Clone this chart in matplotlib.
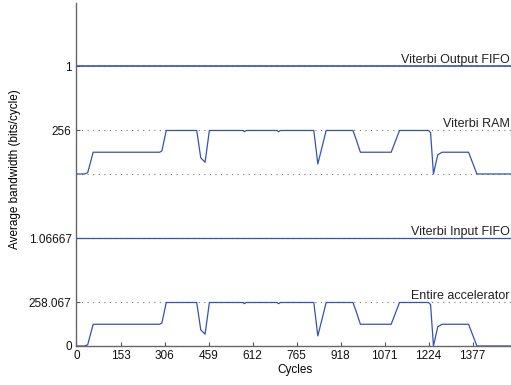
import matplotlib.pyplot as plt
import numpy as np

plt.rcParams['font.family'] = ['Liberation Sans', 'DejaVu Sans']

# Cycle sample points shared by the two busy traces
cycles = [0, 28, 39, 58, 289, 297, 312, 418, 432, 447, 462, 578, 584, 590,
          697, 703, 709, 825, 839, 868, 961, 972, 987, 1094, 1123, 1224,
          1231, 1241, 1256, 1271, 1363, 1392, 1520]

# Average bandwidth (bits/cycle)
ram_bw = [0, 0, 8, 128, 128, 136, 256, 256, 95, 69, 256, 256, 249, 256,
          256, 249, 256, 256, 59, 256, 256, 205, 128, 128, 256, 256,
          243, 0, 113, 128, 128, 0, 0]
accel_bw = [0, 0, 8, 129, 129, 137, 258.067, 258.067, 96, 70, 258.067,
            258.067, 251, 258.067, 258.067, 251, 258.067, 258.067, 60,
            258.067, 258.067, 207, 129, 129, 258.067, 258.067, 245, 0, 114,
            129, 129, 0, 0]
in_fifo_bw = 1.06667
out_fifo_bw = 1.0

trace_names = ['Entire accelerator', 'Viterbi Input FIFO',
               'Viterbi RAM', 'Viterbi Output FIFO']

# Each pair of traces is stacked in its own band on a shared axis
band_offsets = [0, 172]
trace_height = 43.5
fifo_level = 107.5
line_color = '#3552b5'
grid_kw = dict(color='#777777', linestyle=(0, (1, 4)), linewidth=0.8)

fig = plt.figure(figsize=(5.11, 3.85), dpi=100)
ax = fig.add_axes([0.1497, 0.1013, 0.8556, 0.891])

xmax = 1520
x = np.array(cycles)

# lower band: entire accelerator + input FIFO
y_acc = band_offsets[0] + np.array(accel_bw) / max(accel_bw) * trace_height
ax.plot(x, y_acc, color=line_color, lw=0.9)
ax.plot([0, xmax], [band_offsets[0] + fifo_level] * 2, color=line_color, lw=0.9)

# upper band: RAM + output FIFO
y_ram = band_offsets[1] + np.array(ram_bw) / max(ram_bw) * trace_height
ax.plot(x, y_ram, color=line_color, lw=0.9)
ax.plot([0, xmax], [band_offsets[1] + fifo_level] * 2, color=line_color, lw=1.2)

# dotted reference lines at each band's zero and max
for off in band_offsets:
    for lvl in (0, trace_height, fifo_level):
        ax.axhline(off + lvl, **grid_kw, zorder=0)

label_y = [band_offsets[0] + trace_height, band_offsets[0] + fifo_level,
           band_offsets[1] + trace_height, band_offsets[1] + fifo_level]
for name, ly in zip(trace_names, label_y):
    ax.text(1505, ly + 6.5, name, ha='right', va='center', fontsize=9,
            color='#222222')

ax.set_xlim(0, xmax)
ax.set_ylim(0, 343)
ax.set_xticks(np.arange(0, 1378, 153))
ax.set_yticks([0, trace_height, fifo_level,
               band_offsets[1] + trace_height, band_offsets[1] + fifo_level])
ax.set_yticklabels(['0', '258.067', '1.06667', '256', '1'])
ax.tick_params(direction='in', length=3, labelsize=8.5, colors='#555555',
               labelcolor='#111111')
ax.xaxis.set_tick_params(pad=3)

for side in ('top', 'right'):
    ax.spines[side].set_visible(False)
for side in ('left', 'bottom'):
    ax.spines[side].set_color('#666666')
    ax.spines[side].set_linewidth(1.0)

ax.set_xlabel('Cycles', fontsize=8.5, labelpad=1)
fig.text(0.03, 0.56, 'Average bandwidth (bits/cycle)', rotation=90,
         ha='center', va='center', fontsize=8.5)

fig.savefig('out.png', dpi=100)
